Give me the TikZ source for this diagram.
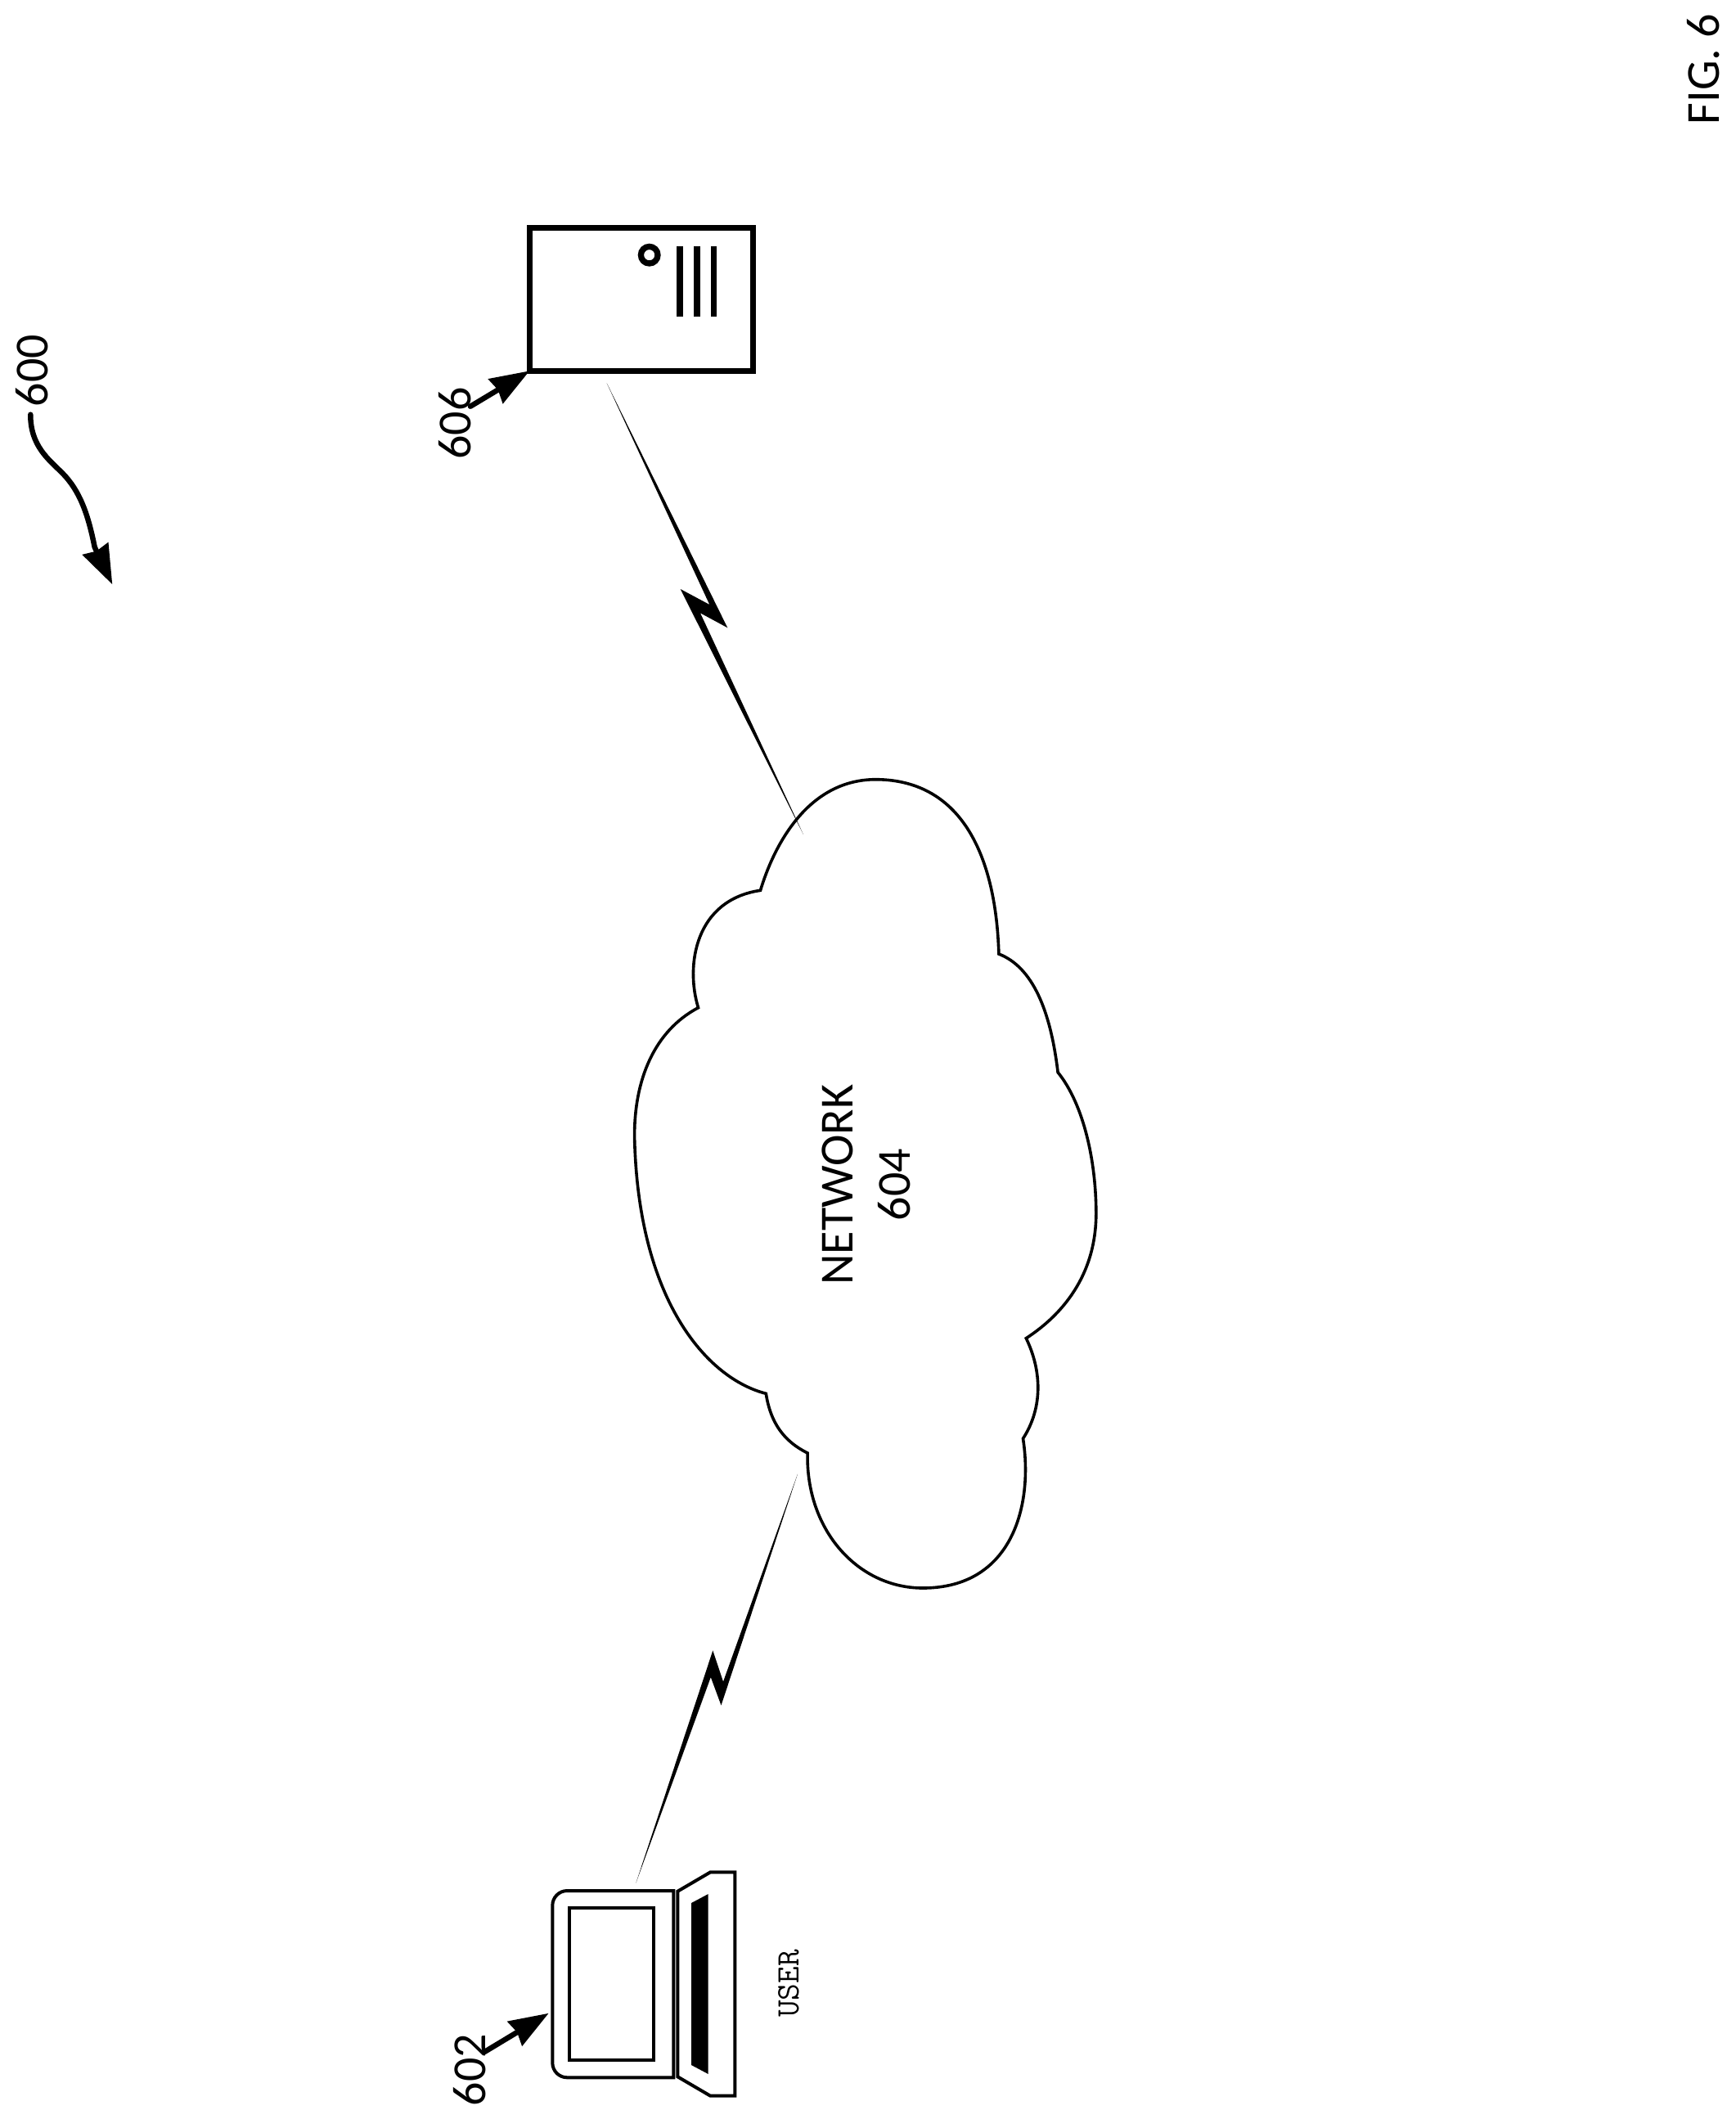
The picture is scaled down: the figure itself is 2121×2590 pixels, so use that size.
\documentclass[tikz,border=0pt]{standalone}
\usepackage{fontspec}
\setmainfont{Carlito}
\usetikzlibrary{arrows.meta}
\tikzset{
  x=1pt,y=-1pt,
  reflabel/.style={rotate=90,inner sep=0pt,font=\fontsize{58}{70}\selectfont},
  refarrow/.style={line width=6.5pt,line cap=round,-{Stealth[length=48pt,width=34pt,inset=3pt]}},
  outline/.style={line width=3.6pt,line join=miter},
  hardware/.style={line width=4pt,line join=miter},
  bolt/.style={fill=black,draw=none},
  tower/.style={draw,line width=6.5pt,rectangle,inner sep=0pt,outer sep=0pt,minimum width=273.4pt,minimum height=175pt},
  slot/.style={fill=black,draw=none},
}
\begin{document}
\begin{tikzpicture}
\useasboundingbox (0,0) rectangle (2121,2590);
% cloud
\draw[outline]
  (929.5,1088.3) .. controls (944,1040) and (983.8,953) .. (1070.3,952.7)
  .. controls (1177.7,953) and (1217.5,1050) .. (1220.9,1166)
  .. controls (1262.2,1182) and (1284.1,1235) .. (1293.1,1310.7)
  .. controls (1324.9,1350) and (1339.8,1420) .. (1339.8,1483)
  .. controls (1339.8,1560) and (1297,1608) .. (1254.3,1635.7)
  .. controls (1273.2,1675) and (1275.2,1720) .. (1250.5,1758.3)
  .. controls (1263.2,1840) and (1237.4,1941) .. (1128,1941)
  .. controls (1048.4,1941) and (984.8,1870) .. (987.1,1776)
  .. controls (958.9,1762) and (942,1740) .. (936.3,1703.3)
  .. controls (864.5,1685) and (780,1590) .. (775.6,1390)
  .. controls (775,1320) and (799.8,1260) .. (853.5,1231.7)
  .. controls (837.6,1180) and (849.6,1100) .. (929.5,1088.3)
  -- cycle;
\node[align=center,rotate=90,inner sep=0pt,font=\fontsize{58}{70}\selectfont] (cloud) at (1059,1448) {NETWORK\\604};
% server
\node[tower] (server) at (784,365.8) {};
\draw[line width=7.3pt] (793.7,311.7) circle[radius=10.3];
\fill[slot] (827,301) rectangle (835,386.7);
\fill[slot] (848,301) rectangle (856,386.7);
\fill[slot] (869,301) rectangle (876,386.7);
% laptop
\draw[hardware] (823.3,2311) [rounded corners=18pt] -- (675.3,2311) -- (675.3,2539.3) [sharp corners] -- (823.3,2539.3) -- cycle;
\draw[hardware] (696,2331.7) rectangle (799.3,2518.3);
\draw[hardware] (828.3,2311.7) -- (868.3,2288.3) -- (898.3,2288.3) -- (898.3,2561.7) -- (868.3,2561.7) -- (828.3,2538.3) -- cycle;
\fill[slot] (845,2326) -- (865.7,2315) -- (865.7,2535) -- (845,2524) -- cycle;
\node[rotate=90,inner sep=0pt,font=\ttfamily\fontsize{40}{44}\selectfont] (user) at (964,2424.5) {USER};
% link ends
\coordinate (srvport) at (741.7,468.3);
\coordinate (cloudtop) at (982,1020);
\coordinate (cloudlow) at (975,1801.5);
\coordinate (lapport) at (777.3,2301.7);
\fill[bolt] (srvport) -- (889.3,767.3) -- (856,749.3) -- (cloudtop) -- (831.7,720) -- (867.3,739) -- cycle;
\fill[bolt] (cloudlow) -- (881.5,2084.4) -- (868.8,2050) -- (lapport) -- (871.3,2017.4) -- (884,2055.4) -- cycle;
% reference labels and arrows
\node[reflabel] (l606) at (555.8,517.5) {606};
\node[reflabel] (l602) at (573.8,2530) {602};
\node[reflabel] (l600) at (39,453) {600};
\node[reflabel] (fig) at (2082,84.5) {FIG. 6};
\coordinate (s606) at (575,496.7);
\coordinate (s602) at (591.7,2508.3);
\coordinate (s600) at (37.3,506.7);
\coordinate (t602) at (670.7,2460.7);
\coordinate (t600) at (137.3,714.3);
\draw[refarrow] (s606) -- (server.south west);
\draw[refarrow] (s602) -- (t602);
\draw[refarrow] (s600) .. controls (37,545) and (60,562) .. (76,578) .. controls (98,600) and (108,630) .. (115.7,668.8) -- (t600);
\end{tikzpicture}
\end{document}
